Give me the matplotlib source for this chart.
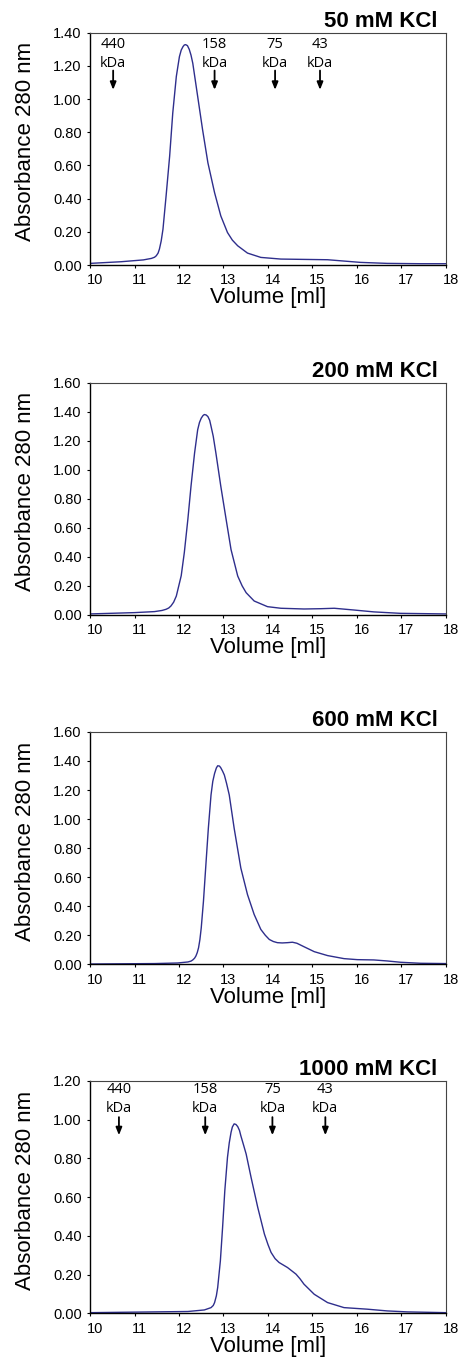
import matplotlib
matplotlib.use("Agg")
import matplotlib.pyplot as plt
import matplotlib.transforms as mtransforms

plt.rcParams['font.family'] = ['Liberation Sans', 'DejaVu Sans']

# elution profiles (volume in ml, A280)
vol_50 = [10.0, 10.7, 11.20, 11.38, 11.45, 11.49, 11.53, 11.56, 11.60, 11.64, 11.71, 11.79,
          11.86, 11.94, 11.98, 12.01, 12.05, 12.09, 12.12, 12.15, 12.19, 12.23, 12.27, 12.31,
          12.36, 12.42, 12.53, 12.65, 12.80, 12.94, 13.09, 13.20, 13.32, 13.54, 13.84,
          14.29, 14.81, 15.34, 15.71, 16.08, 16.68, 17.43, 18.0]
abs_50 = [0.010, 0.020, 0.031, 0.040, 0.047, 0.056, 0.072, 0.096, 0.145, 0.216, 0.416, 0.656,
          0.916, 1.136, 1.205, 1.256, 1.295, 1.316, 1.326, 1.328, 1.322, 1.300, 1.265, 1.216,
          1.125, 1.016, 0.816, 0.616, 0.436, 0.296, 0.196, 0.150, 0.116, 0.072, 0.046,
          0.036, 0.034, 0.032, 0.024, 0.016, 0.010, 0.008, 0.008]

vol_200 = [10.0, 11.0, 11.45, 11.62, 11.71, 11.77, 11.82, 11.88, 11.94, 12.05, 12.12, 12.20,
           12.27, 12.35, 12.42, 12.46, 12.50, 12.54, 12.57, 12.61, 12.65, 12.69, 12.72, 12.77,
           12.83, 12.94, 13.06, 13.17, 13.32, 13.42, 13.51, 13.69, 13.99,
           14.29, 14.81, 15.19, 15.49, 15.93, 16.38, 16.98, 18.0]
abs_200 = [0.007, 0.016, 0.023, 0.031, 0.039, 0.048, 0.062, 0.088, 0.130, 0.270, 0.430, 0.660,
           0.886, 1.114, 1.275, 1.325, 1.355, 1.373, 1.380, 1.377, 1.366, 1.340, 1.300, 1.230,
           1.114, 0.886, 0.657, 0.450, 0.268, 0.200, 0.153, 0.096, 0.057,
           0.046, 0.041, 0.043, 0.046, 0.034, 0.021, 0.011, 0.007]

vol_600 = [10.0, 11.45, 11.97, 12.20, 12.27, 12.31, 12.35, 12.38, 12.41, 12.44, 12.47, 12.50,
           12.55, 12.61, 12.66, 12.72, 12.76, 12.80, 12.84, 12.87, 12.91, 12.94, 12.98, 13.02,
           13.07, 13.13, 13.24, 13.39, 13.54, 13.69, 13.84, 13.94, 14.03, 14.12, 14.21,
           14.32, 14.44, 14.55, 14.65, 14.81, 15.04, 15.34, 15.71, 16.01, 16.38, 16.68, 16.98,
           17.43, 18.0]
abs_600 = [0.002, 0.005, 0.009, 0.016, 0.022, 0.030, 0.042, 0.057, 0.080, 0.114, 0.170, 0.250,
           0.434, 0.710, 0.937, 1.166, 1.260, 1.314, 1.352, 1.367, 1.365, 1.353, 1.330, 1.303,
           1.245, 1.166, 0.937, 0.663, 0.480, 0.343, 0.240, 0.200, 0.171, 0.157, 0.149,
           0.147, 0.149, 0.152, 0.145, 0.121, 0.087, 0.060, 0.039, 0.032, 0.030, 0.023, 0.014,
           0.007, 0.005]

vol_1000 = [10.0, 12.2, 12.57, 12.72, 12.77, 12.80, 12.84, 12.87, 12.93, 12.98, 13.03, 13.09,
            13.13, 13.17, 13.20, 13.24, 13.28, 13.32, 13.36, 13.39, 13.45, 13.51, 13.62, 13.77,
            13.92, 14.00, 14.07, 14.16, 14.25, 14.44, 14.63, 14.72, 14.81, 15.04,
            15.34, 15.71, 16.23, 16.68, 17.13, 18.0]
abs_1000 = [0.003, 0.009, 0.017, 0.029, 0.040, 0.055, 0.090, 0.133, 0.270, 0.443, 0.633, 0.805,
            0.880, 0.934, 0.962, 0.978, 0.975, 0.964, 0.944, 0.917, 0.870, 0.822, 0.702, 0.547,
            0.409, 0.355, 0.314, 0.282, 0.262, 0.236, 0.202, 0.178, 0.150, 0.098,
            0.055, 0.029, 0.021, 0.012, 0.007, 0.003]

titles = ["50 mM KCl", "200 mM KCl", "600 mM KCl", "1000 mM KCl"]
y_max = [1.4, 1.6, 1.6, 1.2]

# size standards (arrows) shown in first and last panel
std_labels = ["440", "158", "75", "43"]
std_vol_50 = [10.52, 12.80, 14.16, 15.17]
std_vol_1000 = [10.65, 12.59, 14.10, 15.29]

line_clr = "#2e2e8c"

fig = plt.figure(figsize=(4.64, 13.62), dpi=100)

bottoms = [0.8054, 0.5485, 0.2920, 0.0358]
series = [(vol_50, abs_50), (vol_200, abs_200), (vol_600, abs_600), (vol_1000, abs_1000)]
standards = [std_vol_50, None, None, std_vol_1000]
# (label "440", label "kDa", arrow top, arrow tip) in axes fraction
std_ypos = [(0.950, 0.869, 0.837, 0.754), None, None, (0.962, 0.880, 0.844, 0.766)]

x_shift = mtransforms.ScaledTranslation(5 / 100, 0, fig.dpi_scale_trans)

for i, (vol, ab) in enumerate(series):
    ax = fig.add_axes([0.194, bottoms[i], 0.767, 0.1706])
    ax.plot(vol, ab, color=line_clr, lw=1.0)
    ax.set_xlim(10, 18)
    ax.set_ylim(0, y_max[i])
    ax.set_xticks(range(10, 19))
    yt = [round(0.2 * k, 2) for k in range(int(round(y_max[i] / 0.2)) + 1)]
    ax.set_yticks(yt)
    ax.set_yticklabels(["%.2f" % v for v in yt])
    ax.tick_params(axis='both', direction='out', length=2.5, width=0.8, labelsize=10.5)
    for lbl in ax.get_xticklabels():
        lbl.set_transform(lbl.get_transform() + x_shift)

    for side in ['left', 'bottom']:
        ax.spines[side].set_color('black')
        ax.spines[side].set_linewidth(1.0)
    for side in ['top', 'right']:
        ax.spines[side].set_color('#444444')
        ax.spines[side].set_linewidth(0.8)

    ax.set_xlabel("Volume [ml]", fontsize=16, labelpad=0)
    ax.set_ylabel("Absorbance 280 nm", fontsize=16)
    ax.yaxis.set_label_coords(-0.151, 0.53)

    ax.text(0.977, 1.026, titles[i], transform=ax.transAxes, ha='right', va='baseline',
            fontsize=16, fontweight='bold')

    if standards[i] is not None:
        trans = mtransforms.blended_transform_factory(ax.transData, ax.transAxes)
        y_num, y_kda, y_top, y_tip = std_ypos[i]
        for lab, xv in zip(std_labels, standards[i]):
            ax.text(xv, y_num, lab, transform=trans, ha='center', va='center',
                    fontsize=10.5, family=['Open Sans', 'DejaVu Sans'])
            ax.text(xv, y_kda, "kDa", transform=trans, ha='center', va='center',
                    fontsize=10.5, family=['Open Sans', 'DejaVu Sans'])
            ax.annotate('', xy=(xv, y_tip), xytext=(xv, y_top), xycoords=trans, textcoords=trans,
                        arrowprops=dict(arrowstyle='-|>,head_width=0.18,head_length=0.45',
                                        color='black', lw=1.3, shrinkA=0, shrinkB=0))

plt.savefig("out.png", dpi=100)
